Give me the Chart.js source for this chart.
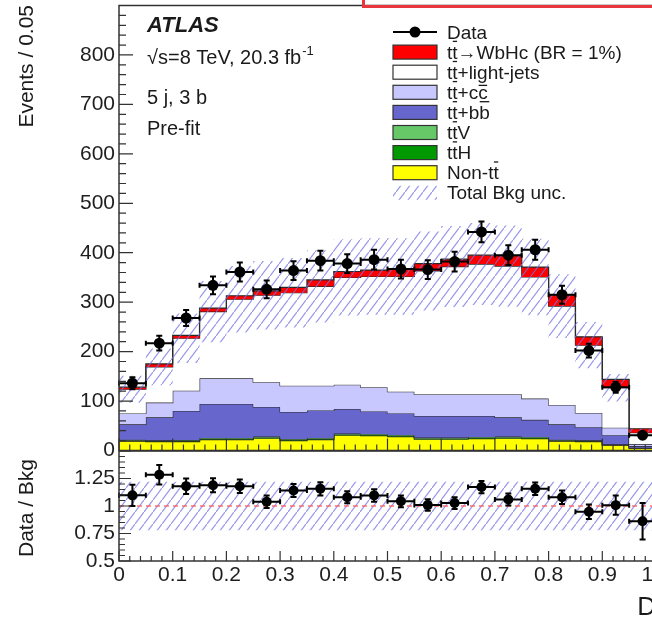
<!DOCTYPE html>
<html>
<head>
<meta charset="utf-8">
<script src="https://cdn.jsdelivr.net/npm/chart.js@4.4.1/dist/chart.umd.min.js"></script>
<style>
  html, body { margin: 0; padding: 0; background: #fff; overflow: hidden; width: 652px; height: 618px; }
  #wrap { position: relative; width: 652px; height: 618px; overflow: hidden; }
  canvas { position: absolute; left: 0; }
  #main { top: 0; }
  #ratio { top: 440px; }
  #callout { position: absolute; left: 362px; top: -20px; width: 320px; height: 22px; border: 3px solid #e8383d; }
</style>
</head>
<body>
<div id="wrap">
  <canvas id="main" width="700" height="456"></canvas>
  <canvas id="ratio" width="700" height="178"></canvas>
  <div id="callout"></div>
</div>
<script>
// discriminant bins, 0.05 wide
const binEdges = [0, 0.05, 0.1, 0.15, 0.2, 0.25, 0.3, 0.35, 0.4, 0.45, 0.5,
                  0.55, 0.6, 0.65, 0.7, 0.75, 0.8, 0.85, 0.9, 0.95, 1.0];

// observed events and their errors
const dataCounts = [136, 217, 268, 334, 361, 326, 364, 384, 378, 386, 367, 366, 382, 442, 395, 406, 315, 202, 128, 31];
const dataErr    = [12, 15, 16, 18, 19, 18, 19, 20, 19, 20, 19, 19, 20, 21, 20, 20, 18, 14, 11, 6];

// pre-fit predictions, bottom of the stack first
const nonTT   = [19, 18, 18, 22, 22, 25, 20, 22, 31, 30, 28, 23, 23, 24, 25, 24, 19, 18, 11, 5];
const ttH     = [1, 1, 1, 1.5, 1.5, 1.5, 1.5, 1.5, 1.5, 1.5, 1.5, 1.5, 1.5, 1.5, 1.5, 1.5, 1, 1, 0.5, 0.2];
const ttV     = [1.5, 1.5, 2, 2, 2, 2, 2, 2, 2, 2, 2, 2, 2, 2, 2, 2, 1.5, 1.5, 1, 0.3];
const ttbb    = [31.5, 46.5, 59, 68.5, 68.5, 59.5, 54.5, 55.5, 49.5, 45.5, 43.5, 43.5, 43.5, 42.5, 38.5, 34.5, 31.5, 26.5, 18.5, 3.5];
const ttcc    = [22, 30, 41, 52, 52, 50, 53, 50, 49, 49, 44, 44, 44, 44, 47, 43, 39, 29, 15, 4];
const ttLight = [49, 72, 106, 135, 160, 176, 188, 201, 217, 224, 233, 249, 258, 263, 259, 246, 200, 137, 81, 23];
const signal  = [4, 6, 6, 7, 7, 9, 11, 13, 12, 13, 15, 15, 15, 18, 21, 20, 23, 17, 17, 8];

// relative total background uncertainty per bin
const bkgRelUnc = [0.22, 0.22, 0.22, 0.22, 0.22, 0.22, 0.22, 0.22, 0.22, 0.22,
                   0.22, 0.22, 0.22, 0.22, 0.22, 0.22, 0.22, 0.22, 0.22, 0.22];

const FONT = '"Liberation Sans", Arial, Helvetica, sans-serif';
Chart.defaults.font.family = FONT;
Chart.defaults.color = '#1e1e1e';

const nBins = dataCounts.length;
const binCenters = dataCounts.map((_, i) => (binEdges[i] + binEdges[i + 1]) / 2);

const stackLayers = [
  { label: 'Non-tt', values: nonTT, color: '#ffff00' },
  { label: 'ttH', values: ttH, color: '#009a00' },
  { label: 'ttV', values: ttV, color: '#66c866' },
  { label: 'tt+bb', values: ttbb, color: '#6666cc' },
  { label: 'tt+cc', values: ttcc, color: '#c8c8ff' },
  { label: 'tt+light-jets', values: ttLight, color: '#ffffff' },
  { label: 'tt->WbHc', values: signal, color: '#ff0000' },
];

// running sums give the upper edge of every layer
let running = new Array(nBins).fill(0);
const stackTops = stackLayers.map(l => (running = running.map((v, i) => v + l.values[i])));
const totalBkg = stackTops[5];

// histogram as a stepped line: one point per left edge plus the closing edge
const stepped = vals => binEdges.map((x, i) => ({ x, y: vals[Math.min(i, nBins - 1)] }));

function makeHatch(color) {
  const tile = document.createElement('canvas');
  tile.width = 9; tile.height = 12;
  const c = tile.getContext('2d');
  c.strokeStyle = color;
  c.lineWidth = 1.2;
  c.beginPath();
  c.moveTo(-1, 13.33); c.lineTo(10, -1.33);
  c.stroke();
  return c.createPattern(tile, 'repeat');
}
const hatch = makeHatch('rgba(115,115,228,0.75)');

// scales keep their fixed box; no extra room for label overhang
const fixWidth = w => s => { s.width = w; s.paddingTop = 0; s.paddingBottom = 0; };
const fixHeight = h => s => { s.height = h; s.paddingLeft = 0; s.paddingRight = 0; };

// ---------------- shared plugins ----------------
const frameTicks = {
  id: 'frameTicks',
  afterDatasetsDraw(chart, args, o) {
    const { ctx, chartArea: a, scales: { x, y } } = chart;
    ctx.save();
    ctx.strokeStyle = '#333';
    ctx.lineWidth = 1.2;
    ctx.beginPath();
    const nx = Math.round((x.max - x.min) / o.xMinor);
    for (let i = 0; i <= nx; i++) {
      const v = x.min + i * o.xMinor;
      const major = Math.abs(v / o.xMajor - Math.round(v / o.xMajor)) < 1e-6;
      const px = x.getPixelForValue(v);
      ctx.moveTo(px, a.bottom);
      ctx.lineTo(px, a.bottom - (major ? o.xLen[0] : o.xLen[1]));
    }
    const ny = Math.round((y.max - y.min) / o.yMinor);
    for (let i = 0; i <= ny; i++) {
      const v = y.min + i * o.yMinor;
      const major = Math.abs(v / o.yMajor - Math.round(v / o.yMajor)) < 1e-6;
      const py = y.getPixelForValue(v);
      ctx.moveTo(a.left, py);
      ctx.lineTo(a.left + (major ? o.yLen[0] : o.yLen[1]), py);
    }
    ctx.stroke();
    ctx.lineWidth = 1.5;
    ctx.strokeRect(a.left, a.top, a.right - a.left, a.bottom - a.top);
    ctx.restore();
  }
};

const errorBars = {
  id: 'errorBars',
  beforeDatasetDraw(chart, args) {
    const ds = chart.data.datasets[args.index];
    if (!ds.errorBars) return;
    const { ctx, scales: { x, y } } = chart;
    ctx.save();
    ctx.strokeStyle = '#000';
    ctx.lineWidth = 2;
    ctx.beginPath();
    ds.data.forEach(p => {
      const px = x.getPixelForValue(p.x), py = y.getPixelForValue(p.y);
      const xl = x.getPixelForValue(p.lo), xr = x.getPixelForValue(p.hi);
      const yt = y.getPixelForValue(p.y + p.err), yb = y.getPixelForValue(p.y - p.err);
      ctx.moveTo(xl, py); ctx.lineTo(xr, py);
      ctx.moveTo(xl, py - 2.5); ctx.lineTo(xl, py + 2.5);
      ctx.moveTo(xr, py - 2.5); ctx.lineTo(xr, py + 2.5);
      ctx.moveTo(px, yt); ctx.lineTo(px, yb);
      ctx.moveTo(px - 3, yt); ctx.lineTo(px + 3, yt);
      ctx.moveTo(px - 3, yb); ctx.lineTo(px + 3, yb);
    });
    ctx.stroke();
    ctx.restore();
  }
};

// text with a bar over selected characters (t-bar, c-bar, b-bar)
function barText(ctx, text, x, y, bars, fs) {
  ctx.fillText(text, x, y);
  (bars || []).forEach(i => {
    const x0 = x + ctx.measureText(text.slice(0, i)).width;
    const w = ctx.measureText(text[i]).width;
    const h = text[i] === 'c' ? 0.74 : 0.94;
    ctx.fillRect(x0 + 0.5, y - h * fs, w - 1, 1.3);
  });
}

// ---------------- main panel ----------------
const legendRows = [
  { text: 'Data', kind: 'data' },
  { text: 'tt\u2192WbHc (BR = 1%)', bars: [1], layer: 6 },
  { text: 'tt+light-jets', bars: [1], layer: 5 },
  { text: 'tt+cc', bars: [1, 4], layer: 4 },
  { text: 'tt+bb', bars: [1, 4], layer: 3 },
  { text: 'ttV', bars: [1], layer: 2 },
  { text: 'ttH', bars: [1], layer: 1 },
  { text: 'Non-tt', bars: [5], layer: 0 },
  { text: 'Total Bkg unc.', kind: 'hatch' },
];

const mainLabels = {
  id: 'mainLabels',
  afterDraw(chart) {
    const { ctx } = chart;
    ctx.save();
    ctx.fillStyle = '#1a1a1a';

    ctx.save();
    ctx.translate(27, 5);
    ctx.rotate(-Math.PI / 2);
    ctx.font = `21px ${FONT}`;
    ctx.textAlign = 'right';
    ctx.textBaseline = 'middle';
    ctx.fillText('Events / 0.05', 0, 0);
    ctx.restore();

    ctx.textBaseline = 'alphabetic';
    ctx.textAlign = 'left';
    ctx.font = `italic bold 22px ${FONT}`;
    ctx.fillText('ATLAS', 147, 32);
    ctx.font = `20px ${FONT}`;
    const lumi = '\u221As=8 TeV, 20.3 fb';
    ctx.fillText(lumi, 147, 64);
    const lw = ctx.measureText(lumi).width;
    ctx.font = `13px ${FONT}`;
    ctx.fillText('-1', 147 + lw + 1, 55);
    ctx.font = `20px ${FONT}`;
    ctx.fillText('5 j, 3 b', 147, 104);
    ctx.fillText('Pre-fit', 147, 135);

    // legend
    const fs = 19;
    ctx.font = `${fs}px ${FONT}`;
    legendRows.forEach((r, i) => {
      const cy = 32 + i * 20.1;
      if (r.kind === 'data') {
        ctx.strokeStyle = '#000';
        ctx.lineWidth = 2;
        ctx.beginPath();
        ctx.moveTo(393, cy); ctx.lineTo(437, cy);
        ctx.stroke();
        ctx.beginPath();
        ctx.arc(415, cy, 5.5, 0, Math.PI * 2);
        ctx.fillStyle = '#000';
        ctx.fill();
      } else if (r.kind === 'hatch') {
        ctx.fillStyle = hatch;
        ctx.fillRect(393, cy - 7, 44, 14);
      } else {
        ctx.fillStyle = stackLayers[r.layer].color;
        ctx.fillRect(393, cy - 7, 44, 14);
        ctx.strokeStyle = '#333';
        ctx.lineWidth = 1.2;
        ctx.strokeRect(393, cy - 7, 44, 14);
      }
      ctx.fillStyle = '#1a1a1a';
      barText(ctx, r.text, 447, cy + 6.5, r.bars, fs);
    });
    ctx.restore();
  }
};

const mainDatasets = stackLayers.map((l, k) => ({
  label: l.label,
  data: stepped(stackTops[k]),
  stepped: true,
  backgroundColor: l.color,
  borderColor: '#2a2a2a',
  borderWidth: 1.2,
  fill: k === 0 ? 'origin' : k - 1,
  pointRadius: 0,
  order: 20 - k,
}));
const uncLoIdx = mainDatasets.length;
mainDatasets.push({
  label: 'unc-low',
  data: stepped(totalBkg.map((b, i) => b * (1 - bkgRelUnc[i]))),
  stepped: true, borderWidth: 0, borderColor: 'transparent', pointRadius: 0, fill: false, order: 6,
});
mainDatasets.push({
  label: 'Total Bkg unc.',
  data: stepped(totalBkg.map((b, i) => b * (1 + bkgRelUnc[i]))),
  stepped: true, borderWidth: 0, borderColor: 'transparent', pointRadius: 0,
  backgroundColor: hatch, fill: uncLoIdx, order: 5,
});
mainDatasets.push({
  label: 'Data',
  data: binCenters.map((x, i) => ({ x, y: dataCounts[i], err: dataErr[i], lo: binEdges[i], hi: binEdges[i + 1] })),
  showLine: false, pointRadius: 5.5, pointBackgroundColor: '#000', pointBorderWidth: 0,
  errorBars: true, order: 0,
});

new Chart(document.getElementById('main'), {
  type: 'line',
  data: { datasets: mainDatasets },
  options: {
    responsive: false,
    animation: false,
    devicePixelRatio: 1,
    layout: { padding: { top: 5, right: 44, bottom: 2, left: 0 } },
    plugins: {
      legend: { display: false },
      tooltip: { enabled: false },
      frameTicks: { xMajor: 0.1, xMinor: 0.02, xLen: [12, 6], yMajor: 100, yMinor: 20, yLen: [14, 7] },
    },
    scales: {
      x: { type: 'linear', min: 0, max: 1, display: false, offset: false },
      y: {
        min: 0, max: 900,
        grid: { display: false, drawTicks: false },
        border: { display: false },
        ticks: { stepSize: 100, padding: 4, autoSkip: false, font: { size: 21 }, callback: v => (v >= 900 ? '' : v) },
        afterFit: fixWidth(119),
      },
    },
  },
  plugins: [errorBars, frameTicks, mainLabels],
});

// ---------------- ratio panel ----------------
const ratioVals = dataCounts.map((d, i) => d / totalBkg[i]);
const ratioErrs = dataErr.map((e, i) => e / totalBkg[i]);

const ratioLabels = {
  id: 'ratioLabels',
  afterDraw(chart) {
    const { ctx, chartArea: a } = chart;
    ctx.save();
    ctx.fillStyle = '#1a1a1a';
    ctx.save();
    ctx.translate(27, (a.top + a.bottom) / 2 + 2);
    ctx.rotate(-Math.PI / 2);
    ctx.font = `21px ${FONT}`;
    ctx.textAlign = 'center';
    ctx.textBaseline = 'middle';
    ctx.fillText('Data / Bkg', 0, 0);
    ctx.restore();
    ctx.font = `26px ${FONT}`;
    ctx.textAlign = 'right';
    ctx.textBaseline = 'middle';
    ctx.fillText('D', a.right, 168);
    ctx.restore();
  }
};

new Chart(document.getElementById('ratio'), {
  type: 'line',
  data: {
    datasets: [
      {
        label: 'unc-low',
        data: stepped(bkgRelUnc.map(u => 1 - u)),
        stepped: true, borderWidth: 0, borderColor: 'transparent', pointRadius: 0, fill: false, order: 4,
      },
      {
        label: 'unc-high',
        data: stepped(bkgRelUnc.map(u => 1 + u)),
        stepped: true, borderWidth: 0, borderColor: 'transparent', pointRadius: 0,
        backgroundColor: hatch, fill: 0, order: 3,
      },
      {
        label: 'unity',
        data: [{ x: 0, y: 1 }, { x: 1, y: 1 }],
        borderColor: 'rgba(255,90,90,0.85)', borderWidth: 1.3, borderDash: [5, 4],
        pointRadius: 0, fill: false, order: 2,
      },
      {
        label: 'Data / Bkg',
        data: binCenters.map((x, i) => ({ x, y: ratioVals[i], err: ratioErrs[i], lo: binEdges[i], hi: binEdges[i + 1] })),
        showLine: false, pointRadius: 5, pointBackgroundColor: '#000', pointBorderWidth: 0,
        errorBars: true, order: 0,
      },
    ],
  },
  options: {
    responsive: false,
    animation: false,
    devicePixelRatio: 1,
    layout: { padding: { top: 11, right: 44, bottom: 0, left: 0 } },
    plugins: {
      legend: { display: false },
      tooltip: { enabled: false },
      frameTicks: { xMajor: 0.1, xMinor: 0.02, xLen: [10, 5], yMajor: 0.25, yMinor: 0.05, yLen: [12, 6] },
    },
    scales: {
      x: {
        type: 'linear', min: 0, max: 1, offset: false,
        grid: { display: false, drawTicks: false },
        border: { display: false },
        ticks: { stepSize: 0.1, padding: 2, maxRotation: 0, autoSkip: false, font: { size: 21 } },
        afterFit: fixHeight(57),
      },
      y: {
        min: 0.5, max: 1.5,
        grid: { display: false, drawTicks: false },
        border: { display: false },
        ticks: { stepSize: 0.25, padding: 4, autoSkip: false, font: { size: 21 }, callback: v => (v >= 1.5 ? '' : v) },
        afterFit: fixWidth(119),
      },
    },
  },
  plugins: [errorBars, frameTicks, ratioLabels],
});
</script>
</body>
</html>
